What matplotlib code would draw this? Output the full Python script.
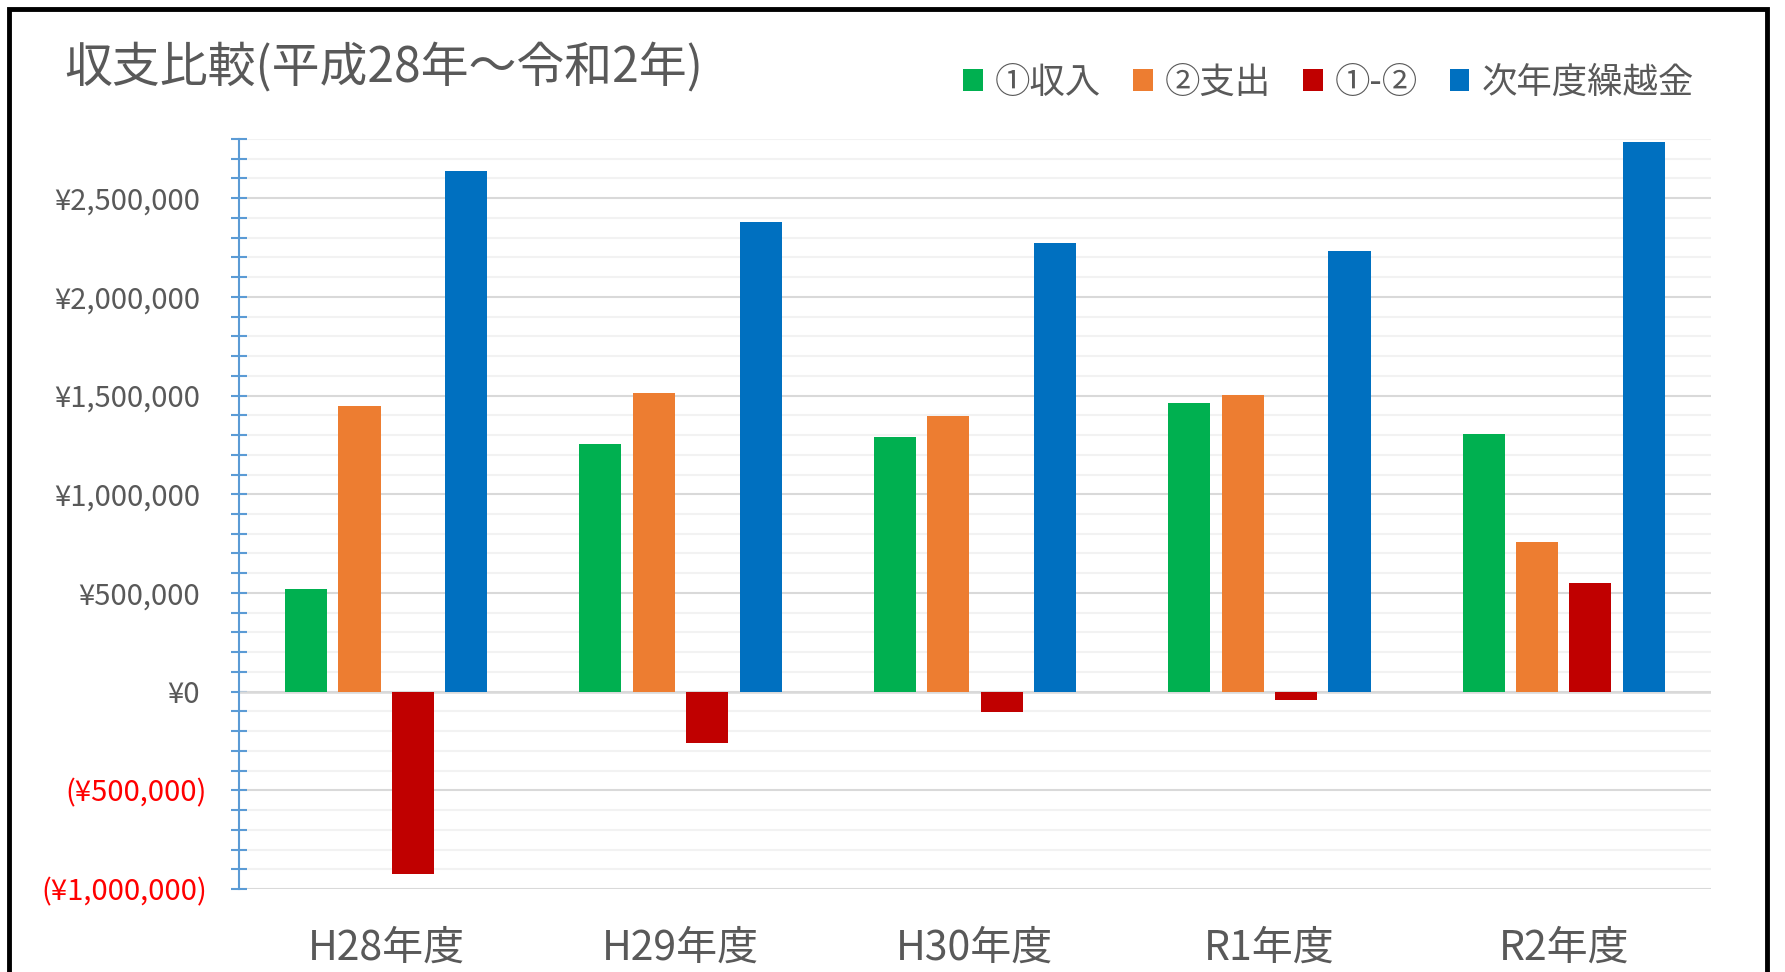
import numpy as np
import matplotlib
matplotlib.use('Agg')
from matplotlib import pyplot as plt
from matplotlib.patches import Patch, Rectangle
from matplotlib.ticker import MultipleLocator, FuncFormatter
from matplotlib.transforms import ScaledTranslation

plt.rcParams['font.family'] = ['Noto Sans CJK JP', 'DejaVu Sans']

# data
years = ['H28年度', 'H29年度', 'H30年度', 'R1年度', 'R2年度']
income = [520000, 1256000, 1290000, 1463000, 1307000]
expense = [1446000, 1515000, 1394000, 1503000, 757000]
balance = [-926000, -259000, -104000, -40000, 550000]
carryover = [2638000, 2379000, 2275000, 2235000, 2785000]

series_names = ['①収入', '②支出', '①-②', '次年度繰越金']
colors = ['#00B050', '#ED7D31', '#C00000', '#0070C0']
text_gray = '#595959'

fig = plt.figure(figsize=(17.85, 9.72), dpi=100)
ax = fig.add_axes([0.1339, 0.0854, 0.8246, 0.7716])

x = np.arange(len(years))
step = 0.1815
width = 0.143
for i, (vals, c) in enumerate(zip([income, expense, balance, carryover], colors)):
    ax.bar(x + (i - 1.5) * step, vals, width, color=c, zorder=3, label=series_names[i])

ax.set_xlim(-0.5, len(years) - 0.5)
ax.set_ylim(-1000000, 2800000)

# gridlines
ax.yaxis.set_major_locator(MultipleLocator(500000))
ax.yaxis.set_minor_locator(MultipleLocator(100000))
ax.grid(which='minor', axis='y', color='#F2F2F2', lw=1.5, zorder=0)
ax.grid(which='major', axis='y', color='#D9D9D9', lw=1.5, zorder=1)
ax.axhline(0, color='#D9D9D9', lw=1.8, zorder=2)

def yen(v, pos):
    if v < 0:
        return '(¥{:,.0f})'.format(-v)
    return '¥{:,.0f}'.format(v)

ax.yaxis.set_major_formatter(FuncFormatter(yen))

for s in ['top', 'right', 'bottom']:
    ax.spines[s].set_visible(False)
ax.spines['left'].set_color('#5B9BD5')
ax.spines['left'].set_linewidth(1.5)
ax.tick_params(axis='y', which='both', direction='inout', length=12, width=1.5,
               color='#5B9BD5', labelsize=21, labelcolor=text_gray, pad=22)
ax.tick_params(axis='x', length=0, labelsize=29.5, labelcolor=text_gray, pad=28)
ax.set_xticks(x)
ax.set_xticklabels(years)

fig.canvas.draw()
# negative values: red, closing paren hangs past the digits
shift = ScaledTranslation(7 / 100, 0, fig.dpi_scale_trans)
for lbl in ax.get_yticklabels():
    if lbl.get_text().startswith('('):
        lbl.set_color('#FF0000')
        lbl.set_transform(lbl.get_transform() + shift)

fig.text(0.036, 0.931, '収支比較(平成28年～令和2年)', fontsize=34.5, color=text_gray,
         ha='left', va='center')

handles = [Patch(facecolor=c, edgecolor='none') for c in colors]
leg = fig.legend(handles, series_names, loc='center right', bbox_to_anchor=(0.957, 0.915),
                 ncol=4, frameon=False, fontsize=25.5, handlelength=0.55, handleheight=0.55,
                 handletextpad=0.35, columnspacing=0.9, borderaxespad=0)
for t in leg.get_texts():
    t.set_color(text_gray)

# outer black frame
fig.patches.append(Rectangle((9 / 1785, -0.02), (1767 - 9) / 1785, 1.02 - 9 / 972,
                             transform=fig.transFigure, fill=False, edgecolor='black',
                             lw=3.5, clip_on=False))

fig.savefig('out.png', dpi=100, facecolor='white')
